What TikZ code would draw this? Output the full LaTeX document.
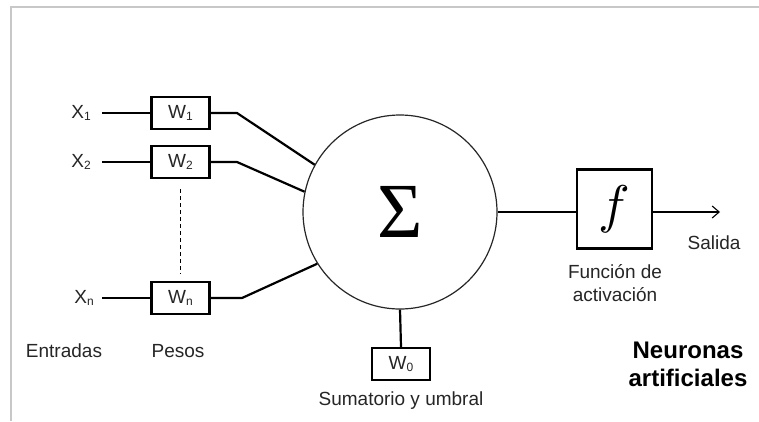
\documentclass[tikz,border=0pt]{standalone}
\usepackage{fontspec}
\setmainfont{Liberation Sans}
\newfontfamily\serifx{Liberation Serif}
\usetikzlibrary{arrows.meta}
\definecolor{txt}{HTML}{262626}
\definecolor{framec}{HTML}{C8C8C8}
\newcommand{\lowsub}[1]{\raisebox{-1.5pt}{\fontsize{12}{12}\selectfont #1}}
\begin{document}
\begin{tikzpicture}[x=1pt,y=-1pt,
  wbox/.style={draw=black,line width=2.2pt,minimum width=58pt,minimum height=32pt,inner sep=0pt,font=\fontsize{19}{19}\selectfont,text=txt},
  lbl/.style={inner sep=0pt,font=\fontsize{19}{23}\selectfont,text=txt,align=center},
  wire/.style={line width=2.2pt,draw=black},
  ]
\useasboundingbox (0,0) rectangle (759,421);
\fill[white] (0,0) rectangle (759,421);
\draw[framec,line width=1.5pt] (11,421) -- (11,7) -- (759,7);

% inputs
\node[lbl,anchor=east] (x1) at (91,113) {X\lowsub{1}};
\node[lbl,anchor=east] (x2) at (91,162) {X\lowsub{2}};
\node[lbl,anchor=east] (xn) at (94,298) {X\lowsub{n}};

% weights
\node[wbox] (w1) at (180.5,113) {W\lowsub{1}};
\node[wbox] (w2) at (180.5,162) {W\lowsub{2}};
\node[wbox] (wn) at (180.5,298) {W\lowsub{n}};

% summation
\node[circle,draw=black!85,line width=1.2pt,minimum size=194pt,inner sep=0pt] (sum) at (400,212)
  {\fontsize{78}{78}\selectfont\serifx Σ};

% activation
\node[draw=black,line width=2.2pt,minimum width=75pt,minimum height=79pt,inner sep=0pt] (f) at (614.5,209)
  {\scalebox{5.3}{$f$}};

% threshold
\node[wbox] (w0) at (401,364) {W\lowsub{0}};

\coordinate (b1) at (237,113);
\coordinate (b2) at (237,162);
\coordinate (bn) at (242,298);
\coordinate (out) at (720,212);

% labels
\node[lbl] (ent) at (64,351) {Entradas};
\node[lbl] (pes) at (178,351) {Pesos};
\node[lbl] (sal) at (714,243) {Salida};
\node[lbl] (fa) at (615,283) {Función de\\activación};
\node[lbl] (su) at (401,401) {Sumatorio y umbral};
\node[lbl,font=\bfseries\fontsize{24}{28}\selectfont,text=black] (neu) at (688,364) {Neuronas\\artificiales};

% connectors
\draw[wire] ([xshift=11pt]x1.east) -- (w1.west);
\draw[wire] ([xshift=11pt]x2.east) -- (w2.west);
\draw[wire] ([xshift=8pt]xn.east) -- (wn.west);
\draw[wire] (w1.east) -- (b1) -- (sum.151);
\draw[wire] (w2.east) -- (b2) -- (sum.168);
\draw[wire] (wn.east) -- (bn) -- (sum.212);
\draw[line width=1pt,dash pattern=on 4pt off 3pt] ([yshift=-10pt]w2.south) -- ([yshift=7pt]wn.north);
\draw[wire] (sum.east) -- (sum.east -| f.west);
\draw[wire,-{Straight Barb[length=7pt,width=12pt,line width=1.1pt]}] (f.east |- out) -- (out);
\draw[wire] (sum.south) -- (w0.north);
\end{tikzpicture}
\end{document}
